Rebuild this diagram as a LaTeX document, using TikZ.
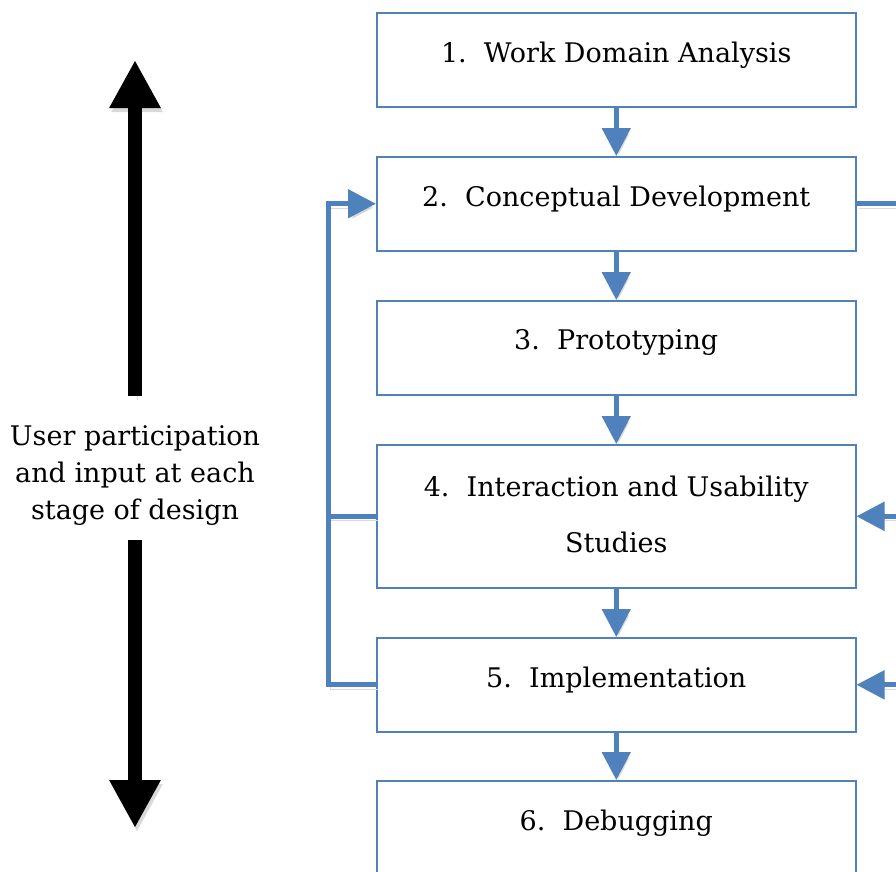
\documentclass[tikz,border=0pt]{standalone}
\usepackage{fontspec}
\setmainfont{DejaVu Serif}
\usetikzlibrary{arrows.meta}
\definecolor{accent}{HTML}{4F81BD}
\definecolor{shadowgray}{gray}{0.85}
\begin{document}
\begin{tikzpicture}[x=1pt,y=-1pt,
  stage/.style={draw=accent, line width=1.5pt, minimum width=479pt, inner sep=0pt, anchor=north west},
  lbl/.style={font=\fontsize{27}{30}\selectfont, inner sep=0pt},
  softshadow/.style={preaction={draw=shadowgray, transform canvas={shift={(2pt,-4pt)}}}},
  flow/.style={draw=accent, line width=5pt, -{Triangle[width=28pt,length=28pt]}, softshadow},
  link/.style={draw=accent, line width=5pt, softshadow},
  bigarrow/.style={draw=black, line width=14pt, -{Triangle[width=48pt,length=48pt]}, softshadow},
]
\useasboundingbox (0,0) rectangle (896,871);
\clip (0,0) rectangle (896,871);

% boxes
\node[stage, minimum height=94pt]  (b1) at (376,12)  {};
\node[stage, minimum height=94pt]  (b2) at (376,156) {};
\node[stage, minimum height=94pt]  (b3) at (376,300) {};
\node[stage, minimum height=143pt] (b4) at (376,444) {};
\node[stage, minimum height=94pt]  (b5) at (376,637) {};
\node[stage, minimum height=94pt]  (b6) at (376,780) {};

% labels
\node[lbl] (t1) at ([yshift=5pt]b1.center) {1.\ \ Work Domain Analysis};
\node[lbl] (t2) at ([yshift=5pt]b2.center) {2.\ \ Conceptual Development};
\node[lbl] (t3) at ([yshift=5pt]b3.center) {3.\ \ Prototyping};
\node[lbl, align=center, font=\fontsize{27}{56}\selectfont] (t4) at ([yshift=2pt]b4.center) {4.\ \ Interaction and Usability\\Studies};
\node[lbl] (t5) at ([yshift=5pt]b5.center) {5.\ \ Implementation};
\node[lbl] (t6) at ([yshift=5pt]b6.center) {6.\ \ Debugging};

% down flow
\draw[flow] (b1.south) -- (b2.north);
\draw[flow] (b2.south) -- (b3.north);
\draw[flow] (b3.south) -- (b4.north);
\draw[flow] (b4.south) -- (b5.north);
\draw[flow] (b5.south) -- (b6.north);

% left feedback
\draw[link] (b4.west) -- ++(-48,0);
\draw[flow] (b5.west) -- ++(-48,0) |- (b2.west);

% right feedback
\draw[link] (b2.east) -- ([xshift=70pt]b2.east);
\draw[flow] ([xshift=70pt]b4.east) -- (b4.east);
\draw[flow] ([xshift=70pt]b5.east) -- (b5.east);

% user participation
\node[lbl, align=center, font=\fontsize{27}{37}\selectfont] (note) at (135,476)
  {User participation\\and input at each\\stage of design};
\coordinate (upbase) at (135,396);
\coordinate (uptip) at (135,60);
\coordinate (dnbase) at (135,540);
\coordinate (dntip) at (135,828);
\draw[bigarrow] (upbase) -- (uptip);
\draw[bigarrow] (dnbase) -- (dntip);
\end{tikzpicture}
\end{document}
